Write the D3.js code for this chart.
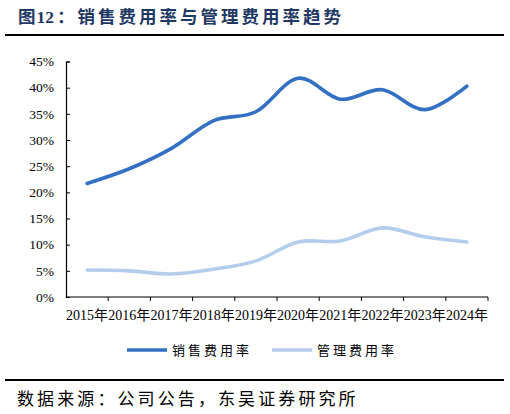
<!DOCTYPE html>
<html>
<head>
<meta charset="UTF-8">
<title>销售费用率与管理费用率趋势</title>
<script src="https://d3js.org/d3.v7.min.js"></script>
<style>
  body { margin: 0; background: #fff; }
  svg { display: block; }
</style>
</head>
<body>
<div id="chart"></div>
<script>
// data
var years = ["2015年", "2016年", "2017年", "2018年", "2019年", "2020年", "2021年", "2022年", "2023年", "2024年"];
var salesRate = [0.217, 0.245, 0.284, 0.337, 0.354, 0.418, 0.378, 0.396, 0.358, 0.403];
var adminRate = [0.0515, 0.050, 0.044, 0.053, 0.069, 0.105, 0.107, 0.132, 0.115, 0.105];
var yTicks = [0, 0.05, 0.10, 0.15, 0.20, 0.25, 0.30, 0.35, 0.40, 0.45];
var seriesNames = ["销售费用率", "管理费用率"];
var seriesColors = ["#3370C4", "#B4CDEC"];

var width = 510, height = 414;
var serif = "'Liberation Serif', 'Times New Roman', 'Noto Sans CJK SC', serif";
var cjk = "'Noto Sans CJK SC', sans-serif";

var svg = d3.select("#chart").append("svg")
    .attr("width", width)
    .attr("height", height);

// title + rule ("12" kept tight, the rest spaced out)
var title = svg.append("text")
    .attr("x", 18)
    .attr("y", 23)
    .attr("fill", "#1F3864")
    .attr("font-family", "'Liberation Serif', 'Noto Sans CJK SC', serif")
    .attr("font-weight", "bold")
    .attr("font-size", "17.5px");
title.append("tspan").attr("letter-spacing", "1px").text("图");
title.append("tspan").text("1");
title.append("tspan").attr("letter-spacing", "3px").text("2：销售费用率与管理费用率趋势");

svg.append("line")
    .attr("x1", 5).attr("x2", 504)
    .attr("y1", 35).attr("y2", 35)
    .attr("stroke", "#000").attr("stroke-width", 2);

// scales
var x = d3.scaleBand().domain(years).range([66, 488]);
var y = d3.scaleLinear().domain([0, 0.45]).range([297, 61.5]);

// y axis (ticks point inward)
var yAxis = svg.append("g")
    .attr("transform", "translate(66,0)")
    .call(d3.axisLeft(y).tickValues(yTicks).tickSize(-4).tickPadding(12)
        .tickFormat(function(d) { return Math.round(d * 100) + "%"; }));
yAxis.select(".domain").attr("stroke", "#000").attr("stroke-width", 1.2);
yAxis.selectAll(".tick line").attr("stroke", "#000");
yAxis.selectAll("text")
    .attr("font-family", serif)
    .attr("font-size", "13.5px")
    .attr("fill", "#000");

// x axis: ticks at band edges, pointing down
var xAxis = svg.append("g")
    .attr("transform", "translate(0,297)");
xAxis.append("line")
    .attr("x1", 66).attr("x2", 488)
    .attr("stroke", "#000").attr("stroke-width", 1.2);
xAxis.selectAll(".edge")
    .data(years)
    .enter().append("line")
    .attr("x1", function(d) { return x(d) + x.bandwidth(); })
    .attr("x2", function(d) { return x(d) + x.bandwidth(); })
    .attr("y1", 0).attr("y2", 4)
    .attr("stroke", "#000");
xAxis.selectAll(".lbl")
    .data(years)
    .enter().append("text")
    .attr("x", function(d) { return x(d) + x.bandwidth() / 2; })
    .attr("y", 23)
    .attr("text-anchor", "middle")
    .attr("font-family", serif)
    .attr("font-size", "14px")
    .attr("fill", "#000")
    .text(function(d) { return d; });

// lines
var line = d3.line()
    .x(function(d, i) { return x(years[i]) + x.bandwidth() / 2; })
    .y(function(d) { return y(d); })
    .curve(d3.curveCardinal.tension(0));

[adminRate, salesRate].forEach(function(s) {
    var idx = s === salesRate ? 0 : 1;
    svg.append("path")
        .datum(s)
        .attr("d", line)
        .attr("fill", "none")
        .attr("stroke", seriesColors[idx])
        .attr("stroke-width", 3.6)
        .attr("stroke-linecap", "round");
});

// legend
var legendX = [127, 272];
seriesNames.forEach(function(name, i) {
    var g = svg.append("g").attr("transform", "translate(" + legendX[i] + ",350)");
    g.append("line")
        .attr("x1", 0).attr("x2", 40)
        .attr("stroke", seriesColors[i])
        .attr("stroke-width", 3.6);
    g.append("text")
        .attr("x", 45)
        .attr("y", 5)
        .attr("font-family", cjk)
        .attr("font-size", "13px")
        .attr("letter-spacing", "3px")
        .attr("fill", "#000")
        .text(name);
});

// source rule + text
svg.append("line")
    .attr("x1", 5).attr("x2", 504)
    .attr("y1", 380).attr("y2", 380)
    .attr("stroke", "#000").attr("stroke-width", 2);

svg.append("text")
    .attr("x", 17)
    .attr("y", 405)
    .attr("font-family", cjk)
    .attr("font-size", "17px")
    .attr("letter-spacing", "3.1px")
    .attr("fill", "#000")
    .text("数据来源：公司公告，东吴证券研究所");
</script>
</body>
</html>
